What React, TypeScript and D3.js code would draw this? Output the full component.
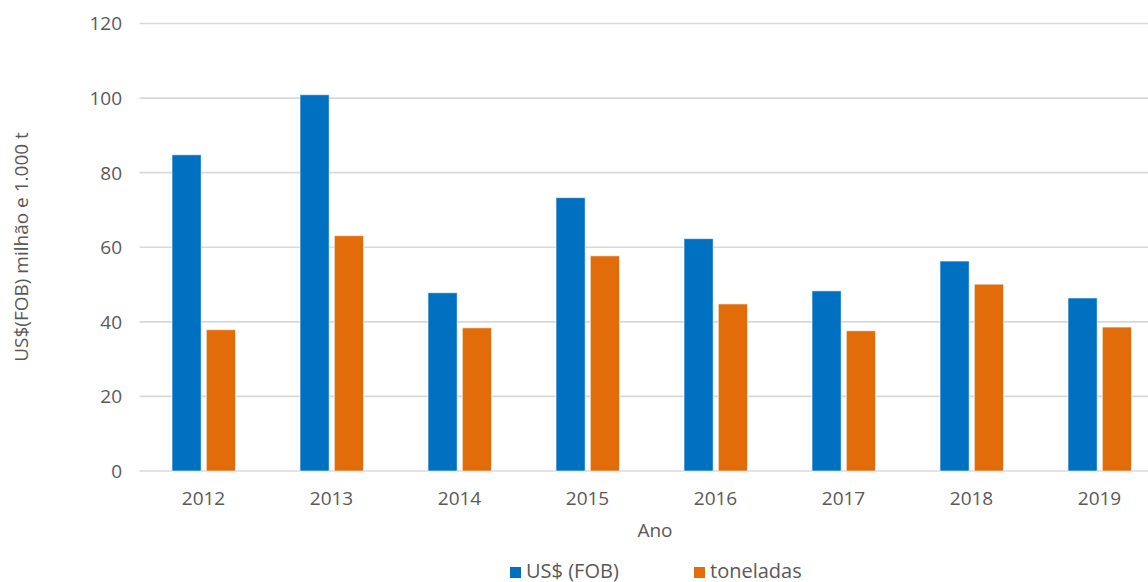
import React from "react";
import * as d3 from "d3";

const years = ["2012", "2013", "2014", "2015", "2016", "2017", "2018", "2019"];
const usdFob = [84.8, 100.9, 47.8, 73.3, 62.3, 48.3, 56.3, 46.4];
const toneladas = [37.9, 63.1, 38.4, 57.7, 44.8, 37.6, 50.1, 38.6];
const yTicks = [0, 20, 40, 60, 80, 100, 120];
const seriesNames = ["US$ (FOB)", "toneladas"];
const seriesColors = ["#0070C0", "#E36C0A"];

const W = 1148;
const H = 582;
const FONT = "'Open Sans', 'Noto Sans', sans-serif";
const TEXT = "#595959";

export default function App() {
  const x = d3.scaleBand<string>().domain(years).range([139.5, 1163.5]);
  const xInner = d3
    .scaleBand<string>()
    .domain(seriesNames)
    .range([32.5, 96])
    .paddingInner(0.15);
  const y = d3.scaleLinear().domain([0, 120]).range([471, 23.5]);
  const series = [usdFob, toneladas];

  return (
    <svg
      width={W}
      height={H}
      style={{ position: "absolute", left: 0, top: 0, background: "#fff" }}
      fontFamily={FONT}
    >
      <rect x={0} y={0} width={W} height={H} fill="#fff" />
      {yTicks.map((t) => (
        <g key={t}>
          <line
            x1={139.5}
            x2={W}
            y1={y(t)}
            y2={y(t)}
            stroke="#D9D9D9"
            strokeWidth={1.6}
          />
          <text
            x={122}
            y={y(t)}
            dy="0.36em"
            textAnchor="end"
            fontSize={19}
            fill={TEXT}
          >
            {t}
          </text>
        </g>
      ))}
      {years.map((yr, i) => (
        <g key={yr} transform={`translate(${x(yr)},0)`}>
          {series.map((s, j) => (
            <rect
              key={j}
              x={xInner(seriesNames[j])}
              y={y(s[i])}
              width={xInner.bandwidth()}
              height={y(0) - y(s[i])}
              fill={seriesColors[j]}
              stroke="#fff"
              strokeOpacity={0.6}
              strokeWidth={1}
            />
          ))}
          <text
            x={x.bandwidth() / 2}
            y={498}
            dy="0.36em"
            textAnchor="middle"
            fontSize={19}
            fill={TEXT}
          >
            {yr}
          </text>
        </g>
      ))}
      <text
        x={655}
        y={530}
        dy="0.36em"
        textAnchor="middle"
        fontSize={19}
        fill={TEXT}
      >
        Ano
      </text>
      <text
        transform={`translate(21,${247}) rotate(-90)`}
        textAnchor="middle"
        dy="0.36em"
        fontSize={19}
        fill={TEXT}
      >
        US$(FOB) milhão e 1.000 t
      </text>
      {seriesNames.map((n, j) => {
        const lx = j === 0 ? 510 : 694;
        return (
          <g key={n}>
            <rect x={lx} y={567} width={11} height={11} fill={seriesColors[j]} />
            <text
              x={lx + 16}
              y={571}
              dy="0.34em"
              fontSize={20}
              fill={TEXT}
            >
              {n}
            </text>
          </g>
        );
      })}
    </svg>
  );
}
